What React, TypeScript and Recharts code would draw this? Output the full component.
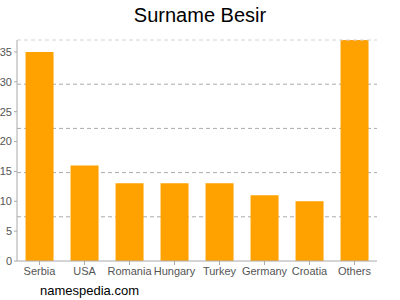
import { BarChart, Bar, XAxis, YAxis, CartesianGrid, ReferenceLine } from "recharts";

const countries = ["Serbia", "USA", "Romania", "Hungary", "Turkey", "Germany", "Croatia", "Others"];
const counts = [35, 16, 13, 13, 13, 11, 10, 37];
const yTicks = [0, 5, 10, 15, 20, 25, 30, 35];
const gridValues = [7.4, 14.8, 22.2, 29.6];
const yMax = 37;

const data = countries.map((name, i) => ({ name, value: counts[i] }));

const font = "'Liberation Sans', Arial, sans-serif";

export default function App() {
  return (
    <div style={{ position: "absolute", left: 0, top: 0, width: 400, height: 300, background: "#fff", fontFamily: font }}>
      <div style={{ position: "absolute", top: 4, width: 400, textAlign: "center", fontSize: 20, color: "#000" }}>
        Surname Besir
      </div>
      <BarChart
        width={400}
        height={300}
        data={data}
        margin={{ top: 40, right: 23, bottom: 20, left: 0 }}
        barCategoryGap="19%"
      >
        <CartesianGrid
          vertical={false}
          horizontalValues={gridValues}
          stroke="#aaa"
          strokeDasharray="4 3"
        />
        <ReferenceLine y={yMax} stroke="#d4d4d4" strokeDasharray="4 3" />
        <XAxis
          dataKey="name"
          height={19}
          stroke="#aaa"
          tickSize={4}
          tick={{ fill: "#555", fontSize: 11, fontFamily: font }}
          interval={0}
        />
        <YAxis
          width={17}
          domain={[0, yMax]}
          ticks={yTicks}
          stroke="#aaa"
          tickSize={3}
          tick={{ fill: "#555", fontSize: 11, fontFamily: font }}
          interval={0}
        />
        <Bar dataKey="value" fill="#ffa200" isAnimationActive={false} />
      </BarChart>
      <div style={{ position: "absolute", left: 40, top: 283, fontSize: 13, color: "#000" }}>
        namespedia.com
      </div>
    </div>
  );
}
